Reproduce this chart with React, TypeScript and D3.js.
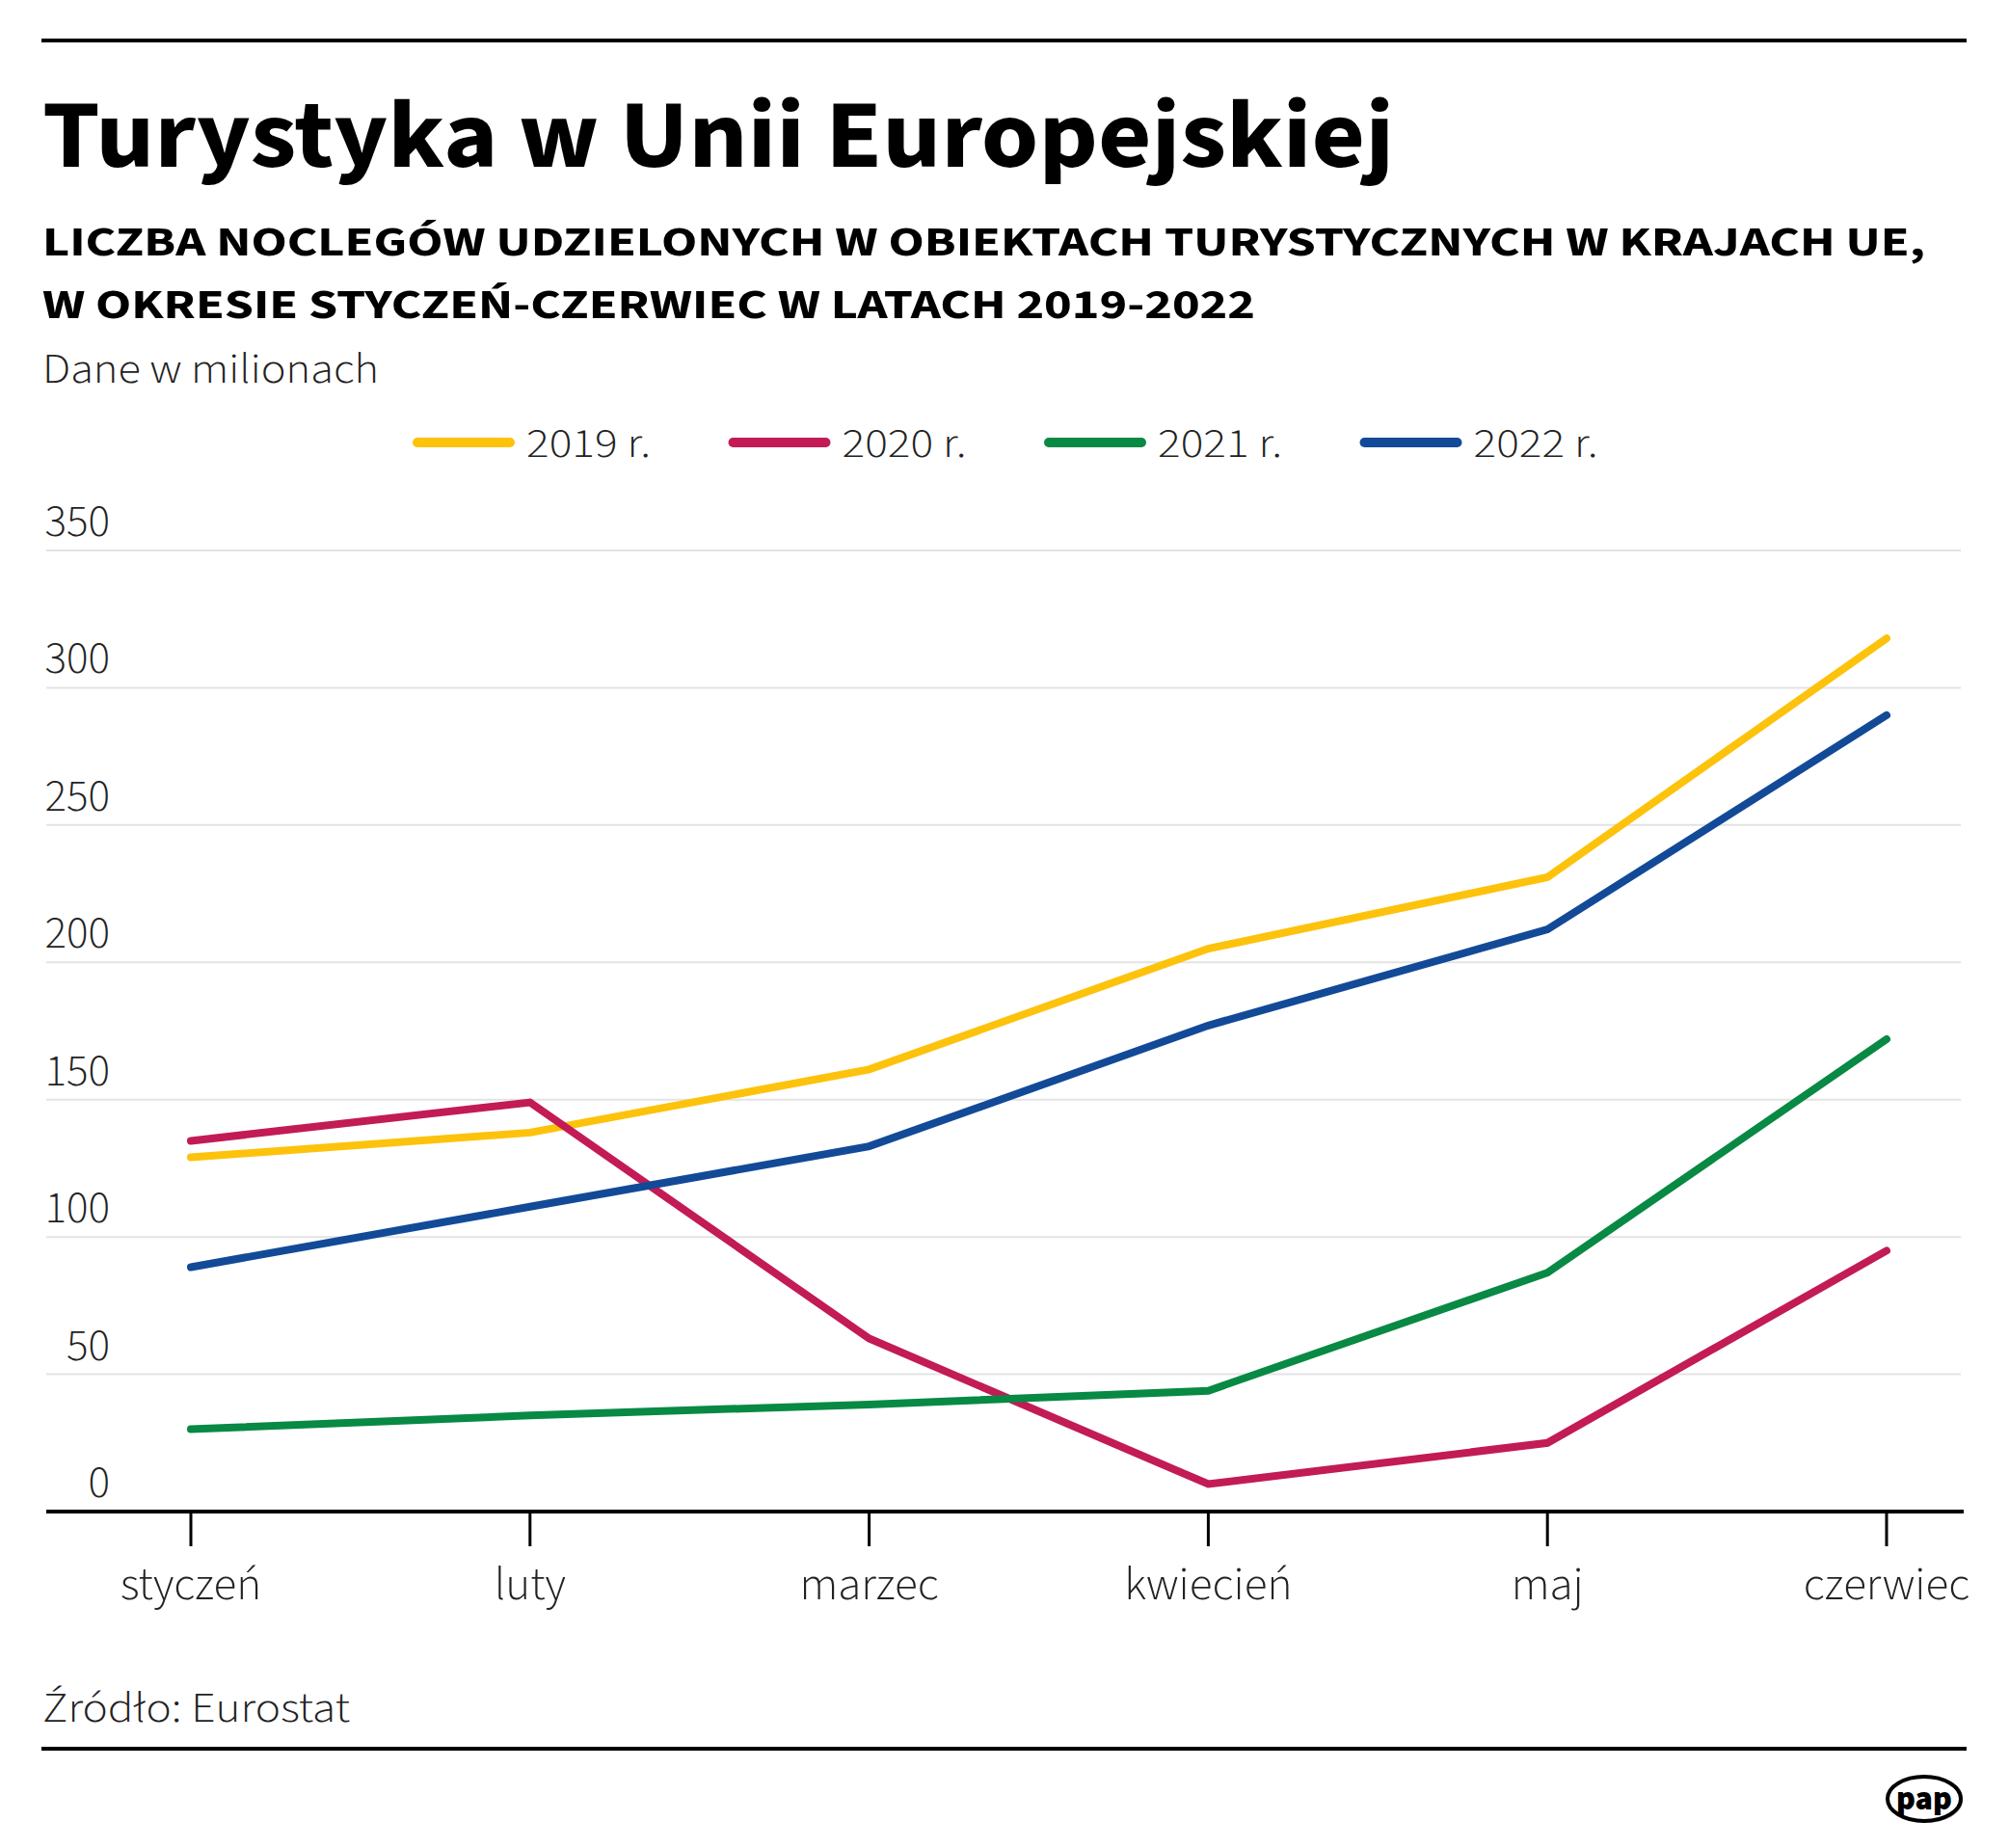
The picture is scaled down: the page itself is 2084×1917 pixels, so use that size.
import React, { useEffect } from "react";
import * as d3 from "d3";

const months = ["styczeń", "luty", "marzec", "kwiecień", "maj", "czerwiec"];
const years = ["2019 r.", "2020 r.", "2021 r.", "2022 r."];
const values2019 = [129, 138, 161, 205, 231, 318];
const values2020 = [135, 149, 63, 10, 25, 95];
const values2021 = [30, 35, 39, 44, 87, 172];
const values2022 = [89, 111, 133, 177, 212, 290];
const yTicks = [0, 50, 100, 150, 200, 250, 300, 350];
const colors = ["#FDC20C", "#C21B56", "#088944", "#124A98"];

const W = 2084;
const H = 1917;
const FONT = "'Source Sans Pro', 'Source Sans 3', Roboto, sans-serif";

export default function App() {
  useEffect(() => {
    document.body.style.margin = "0";
  }, []);

  const x = d3.scalePoint<string>().domain(months).range([198, 1957]);
  const y = d3.scaleLinear().domain([0, 350]).range([1568, 571]);
  const series = [values2019, values2020, values2021, values2022];
  const line = d3
    .line<number>()
    .x((_, i) => x(months[i]) as number)
    .y((d) => y(d));

  return (
    <svg width={W} height={H} viewBox={`0 0 ${W} ${H}`} style={{ display: "block", background: "#fff" }}>
      <rect x={0} y={0} width={W} height={H} fill="#fff" />
      {/* top rule */}
      <rect x={43} y={40} width={1997} height={4} fill="#000" />
      <text x={44} y={173} fontFamily={FONT} fontWeight={700} fontSize={100} textLength={1402} lengthAdjust="spacingAndGlyphs" fill="#000">
        Turystyka w Unii Europejskiej
      </text>
      <text x={44} y={265} fontFamily={FONT} fontWeight={700} fontSize={43} textLength={1953} lengthAdjust="spacingAndGlyphs" fill="#000">
        LICZBA NOCLEGÓW UDZIELONYCH W OBIEKTACH TURYSTYCZNYCH W KRAJACH UE,
      </text>
      <text x={44} y={330} fontFamily={FONT} fontWeight={700} fontSize={43} textLength={1258} lengthAdjust="spacingAndGlyphs" fill="#000">
        W OKRESIE STYCZEŃ-CZERWIEC W LATACH 2019-2022
      </text>
      <text x={44} y={397} fontFamily={FONT} fontWeight={300} fontSize={45} textLength={349} lengthAdjust="spacingAndGlyphs" fill="#222">
        Dane w milionach
      </text>

      {/* legend */}
      {years.map((yr, i) => {
        const lx = 428 + i * 327.5;
        return (
          <g key={yr}>
            <line x1={lx + 5} x2={lx + 101} y1={459} y2={459} stroke={colors[i]} strokeWidth={10} strokeLinecap="round" />
            <text x={lx + 118} y={474} fontFamily={FONT} fontWeight={300} fontSize={42} textLength={129} lengthAdjust="spacingAndGlyphs" fill="#222">
              {yr}
            </text>
          </g>
        );
      })}

      {/* gridlines and y labels */}
      {yTicks.map((t) => (
        <g key={t}>
          {t > 0 && <line x1={48} x2={2034} y1={y(t)} y2={y(t)} stroke="#e3e3e3" strokeWidth={2} />}
          <text x={114} y={y(t) - 15} textAnchor="end" fontFamily={FONT} fontWeight={300} fontSize={47} fill="#222">
            {t}
          </text>
        </g>
      ))}

      {/* series */}
      {series.map((s, i) => (
        <path key={i} d={line(s) as string} fill="none" stroke={colors[i]} strokeWidth={8} strokeLinecap="round" strokeLinejoin="miter" />
      ))}

      {/* x axis */}
      <line x1={48} x2={2037} y1={y(0)} y2={y(0)} stroke="#000" strokeWidth={4} />
      {months.map((m) => (
        <g key={m}>
          <line x1={x(m)} x2={x(m)} y1={y(0)} y2={1604} stroke="#000" strokeWidth={3} />
          <text x={x(m)} y={1659} textAnchor="middle" fontFamily={FONT} fontWeight={300} fontSize={49} fill="#222">
            {m}
          </text>
        </g>
      ))}

      {/* source */}
      <text x={44} y={1786} fontFamily={FONT} fontWeight={300} fontSize={44} textLength={319} lengthAdjust="spacingAndGlyphs" fill="#222">
        Źródło: Eurostat
      </text>
      <rect x={43} y={1812} width={1997} height={4} fill="#000" />

      {/* logo */}
      <g>
        <ellipse cx={1998} cy={1868} rx={38} ry={23} fill="#bbb" />
        <ellipse cx={1996} cy={1866} rx={38} ry={23} fill="#fff" stroke="#000" strokeWidth={4} />
        <text x={1996} y={1877} textAnchor="middle" fontFamily={FONT} fontWeight={900} fontSize={34} textLength={58} lengthAdjust="spacingAndGlyphs" fill="#000">
          pap
        </text>
      </g>
    </svg>
  );
}
